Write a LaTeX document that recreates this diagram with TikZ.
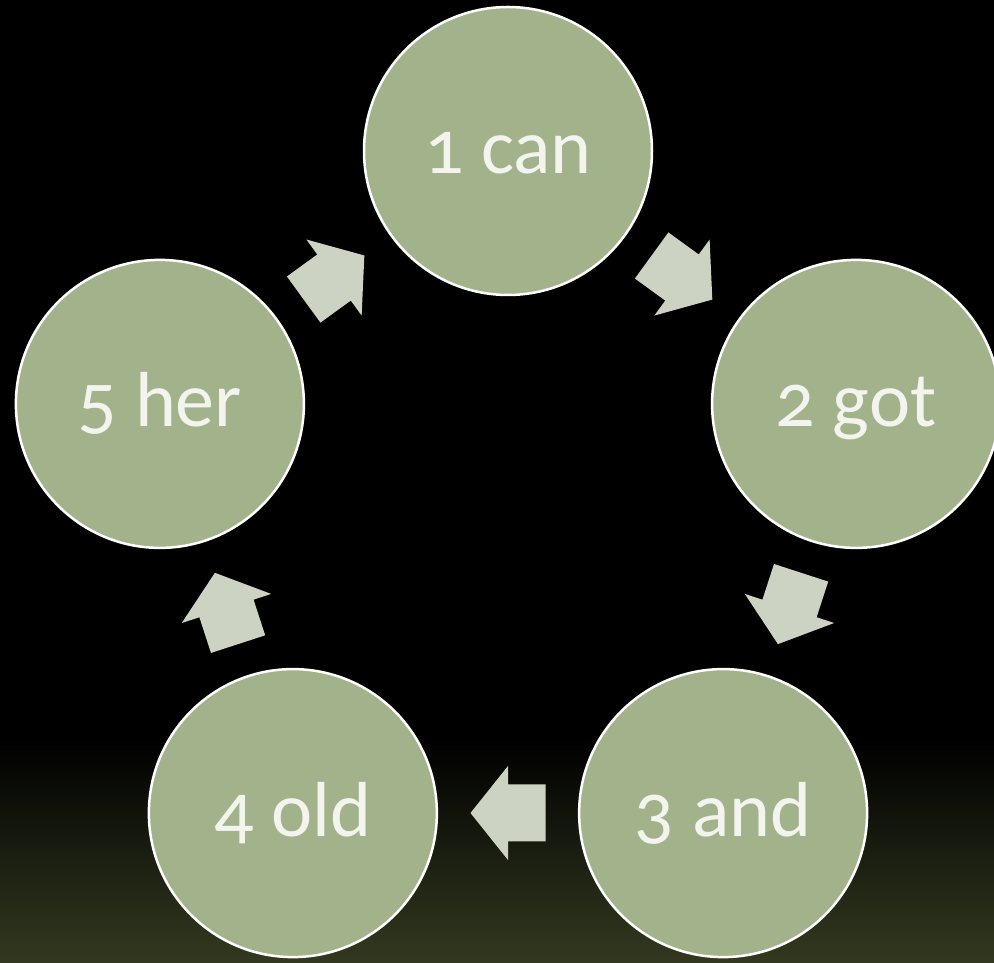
\documentclass[tikz,border=0pt]{standalone}
\usepackage{fontspec}
\setmainfont{Carlito}[Numbers=OldStyle]
\usetikzlibrary{calc}
\definecolor{circfill}{HTML}{A2B28B}
\definecolor{arrfill}{HTML}{CCD3C2}
\definecolor{txt}{HTML}{F4F4EE}
\definecolor{bgbot}{HTML}{333920}
\begin{document}
\begin{tikzpicture}[x=1pt,y=1pt,
  stage/.style={circle, fill=circfill, draw=white, line width=2.5pt,
    minimum size=288pt, inner sep=0pt, text=txt,
    font=\fontsize{78}{90}\selectfont, text height=46pt, text depth=0pt},
  blockarrow/.style={fill=arrfill, draw=none}]
\useasboundingbox (0,0) rectangle (994,962);
% background
\fill[black] (0,0) rectangle (994,962);
\shade[top color=black, bottom color=bgbot] (0,0) rectangle (994,222);
\coordinate (O) at (508,445);
% stages
\node[stage] (c1) at ($(O)+(90:366)$) {1 can};
\node[stage] (c2) at ($(O)+(18:366)$) {2 got};
\node[stage] (c3) at ($(O)+(-54:366)$) {3 and};
\node[stage] (c4) at ($(O)+(-126:366)$) {4 old};
\node[stage] (c5) at ($(O)+(162:366)$) {5 her};
% arrows
\foreach \a/\n in {54/a12,-18/a23,-90/a34,-162/a45,126/a51}{
  \coordinate (\n) at ($(O)+(\a:296)$);
  \pgfmathsetmacro{\r}{\a-90}
  \fill[blockarrow, shift={(\n)}, rotate=\r]
    (-37.5,-28.5) -- (0,-28.5) -- (0,-47) -- (37.5,0) -- (0,47) -- (0,28.5) -- (-37.5,28.5) -- cycle;
}
\end{tikzpicture}
\end{document}
